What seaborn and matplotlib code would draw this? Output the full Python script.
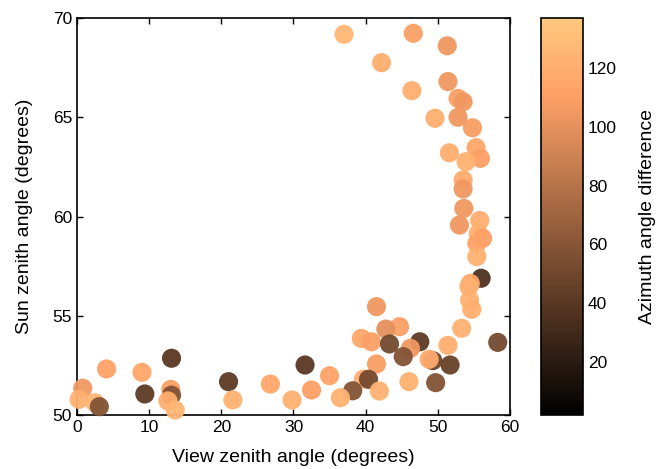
import numpy as np
import pandas as pd
import matplotlib
matplotlib.use("Agg")
import matplotlib.pyplot as plt
import seaborn as sns

# view zenith, sun zenith, azimuth difference
view_zenith = [37.0, 46.6, 51.3, 42.2, 51.4, 46.4, 52.8, 53.5, 49.6, 52.8,
               54.8, 55.3, 55.9, 51.6, 53.9, 53.5, 53.5, 53.6, 55.8, 53.0,
               55.6, 56.2, 55.4, 55.4, 56.0, 54.5, 54.3, 54.4, 54.7, 53.3,
               41.5, 44.7, 42.8, 39.4, 40.8, 43.3, 47.5, 46.2, 51.4, 58.3,
               45.2, 49.3, 48.8, 41.5, 51.7, 31.6, 13.1, 4.1, 9.0, 35.0,
               21.0, 26.8, 39.7, 40.4, 46.0, 49.7, 0.8, 13.0, 13.1, 9.4,
               32.5, 38.2, 41.9, 0.3, 2.5, 3.1, 12.6, 13.6, 21.6, 29.8,
               36.5]
sun_zenith = [69.18, 69.23, 68.6, 67.75, 66.8, 66.34, 65.95, 65.78, 64.95, 65.0,
              64.47, 63.47, 62.93, 63.21, 62.76, 61.84, 61.39, 60.41, 59.8, 59.57,
              59.15, 58.9, 58.65, 57.98, 56.89, 56.63, 56.46, 55.79, 55.32, 54.37,
              55.46, 54.45, 54.33, 53.86, 53.69, 53.58, 53.69, 53.36, 53.51, 53.66,
              52.94, 52.74, 52.81, 52.57, 52.52, 52.52, 52.86, 52.32, 52.15, 51.98,
              51.68, 51.56, 51.81, 51.80, 51.68, 51.63, 51.35, 51.29, 51.0, 51.06,
              51.26, 51.22, 51.21, 50.79, 50.62, 50.42, 50.71, 50.25, 50.76, 50.76,
              50.87]
azimuth_diff = [125, 110, 105, 120, 105, 120, 110, 105, 120, 105,
                108, 115, 110, 120, 122, 118, 105, 105, 120, 105,
                122, 110, 112, 122, 36, 115, 122, 122, 120, 122,
                105, 110, 100, 115, 110, 52, 42, 105, 120, 52,
                58, 48, 118, 108, 46, 40, 40, 112, 115, 112,
                42, 115, 120, 52, 122, 58, 105, 108, 58, 42,
                110, 58, 122, 122, 125, 58, 120, 125, 122, 122,
                122]

df = pd.DataFrame({"vza": view_zenith, "sza": sun_zenith, "az": azimuth_diff})

sns.set_style("ticks")
plt.rcParams["font.family"] = ["Liberation Sans", "DejaVu Sans"]
plt.rcParams["text.color"] = "black"
plt.rcParams["axes.labelcolor"] = "black"
plt.rcParams["xtick.color"] = "black"
plt.rcParams["ytick.color"] = "black"
plt.rcParams["axes.edgecolor"] = "black"

vmin, vmax = 2, 137
norm = plt.Normalize(vmin, vmax)

fig = plt.figure(figsize=(6.62, 4.69), dpi=100)
ax = fig.add_axes([0.1163, 0.1151, 0.6541, 0.8465])
cax = fig.add_axes([0.8172, 0.1151, 0.0634, 0.8465])

sns.scatterplot(data=df, x="vza", y="sza", hue="az", palette="copper",
                hue_norm=norm, s=190, linewidth=0, alpha=0.95,
                legend=False, ax=ax, clip_on=False, zorder=3)

ax.set_xlim(0, 60)
ax.set_ylim(50, 70)
ax.set_xticks([0, 10, 20, 30, 40, 50, 60])
ax.set_yticks([50, 55, 60, 65, 70])
ax.tick_params(direction="in", top=True, right=True, labelsize=12.5,
               length=4, width=1)
for sp in ax.spines.values():
    sp.set_linewidth(1.2)
    sp.set_visible(True)
ax.set_xlabel("View zenith angle (degrees)", fontsize=14, labelpad=10)
ax.set_ylabel("Sun zenith angle (degrees)", fontsize=14, labelpad=14)

sm = plt.cm.ScalarMappable(cmap="copper", norm=norm)
cb = fig.colorbar(sm, cax=cax)
cb.set_ticks([20, 40, 60, 80, 100, 120])
cax.tick_params(direction="in", left=True, right=True, labelsize=12.5,
                length=4, width=1)
cb.outline.set_linewidth(1.2)
cb.set_label("Azimuth angle difference", fontsize=14, labelpad=16)

fig.savefig("out.png", dpi=100)
